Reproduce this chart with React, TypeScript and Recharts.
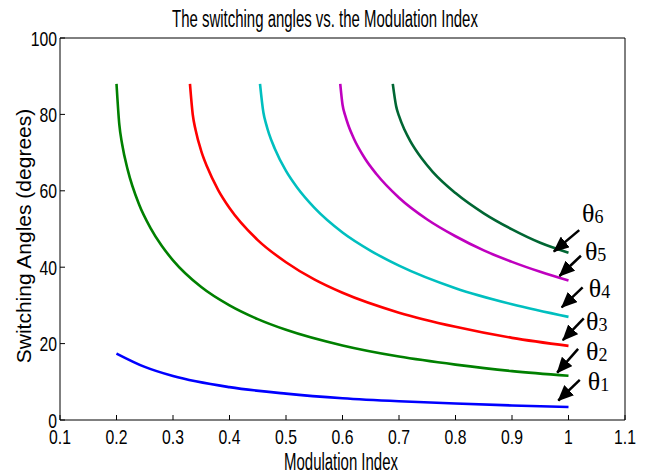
import { LineChart, Line, XAxis, YAxis, ReferenceLine, ReferenceDot, Label } from "recharts";

// modulation index samples (x) and switching angle (deg) for each curve
const theta1 = [
  { m: 0.2, v: 17.4 }, { m: 0.25, v: 13.9 }, { m: 0.3, v: 11.5 }, { m: 0.4, v: 8.6 },
  { m: 0.5, v: 6.9 }, { m: 0.6, v: 5.7 }, { m: 0.7, v: 4.9 }, { m: 0.8, v: 4.3 },
  { m: 0.9, v: 3.8 }, { m: 1.0, v: 3.4 },
];
const theta2 = [
  { m: 0.2, v: 88 }, { m: 0.205, v: 77.3 }, { m: 0.21, v: 72.2 }, { m: 0.22, v: 65.4 },
  { m: 0.24, v: 56.4 }, { m: 0.26, v: 50.3 }, { m: 0.28, v: 45.6 }, { m: 0.3, v: 41.8 },
  { m: 0.35, v: 34.8 }, { m: 0.4, v: 30 }, { m: 0.45, v: 26.4 }, { m: 0.5, v: 23.6 },
  { m: 0.6, v: 19.5 }, { m: 0.7, v: 16.6 }, { m: 0.8, v: 14.5 }, { m: 0.9, v: 12.8 },
  { m: 1.0, v: 11.6 },
];
const theta3 = [
  { m: 0.33, v: 88 }, { m: 0.335, v: 79.9 }, { m: 0.34, v: 75.9 }, { m: 0.35, v: 70.4 },
  { m: 0.36, v: 66.4 }, { m: 0.38, v: 60.2 }, { m: 0.4, v: 55.5 }, { m: 0.45, v: 47.1 },
  { m: 0.5, v: 41.3 }, { m: 0.55, v: 36.8 }, { m: 0.6, v: 33.3 }, { m: 0.7, v: 28.1 },
  { m: 0.8, v: 24.4 }, { m: 0.9, v: 21.5 }, { m: 1.0, v: 19.4 },
];
const theta4 = [
  { m: 0.454, v: 88 }, { m: 0.46, v: 80.5 }, { m: 0.465, v: 77.4 }, { m: 0.47, v: 74.9 },
  { m: 0.48, v: 71.1 }, { m: 0.5, v: 65.2 }, { m: 0.52, v: 60.8 }, { m: 0.55, v: 55.6 },
  { m: 0.6, v: 49.1 }, { m: 0.65, v: 44.3 }, { m: 0.7, v: 40.4 }, { m: 0.8, v: 34.5 },
  { m: 0.9, v: 30.3 }, { m: 1.0, v: 27 },
];
const theta5 = [
  { m: 0.596, v: 88 }, { m: 0.6, v: 82.6 }, { m: 0.605, v: 79.6 }, { m: 0.61, v: 77.3 },
  { m: 0.62, v: 73.7 }, { m: 0.64, v: 68.4 }, { m: 0.66, v: 64.4 }, { m: 0.7, v: 58.2 },
  { m: 0.75, v: 52.5 }, { m: 0.8, v: 48.1 }, { m: 0.85, v: 44.4 }, { m: 0.9, v: 41.4 },
  { m: 0.95, v: 38.8 }, { m: 1.0, v: 36.5 },
];
const theta6 = [
  { m: 0.689, v: 88 }, { m: 0.695, v: 82.1 }, { m: 0.7, v: 79.6 }, { m: 0.71, v: 75.9 },
  { m: 0.72, v: 73 }, { m: 0.74, v: 68.5 }, { m: 0.76, v: 64.9 }, { m: 0.8, v: 59.4 },
  { m: 0.85, v: 54.1 }, { m: 0.9, v: 49.9 }, { m: 0.95, v: 46.4 }, { m: 1.0, v: 43.8 },
];

const xTicks = [0.1, 0.2, 0.3, 0.4, 0.5, 0.6, 0.7, 0.8, 0.9, 1.0, 1.1];
const yTicks = [0, 20, 40, 60, 80, 100];

// arrow tail -> head, and label anchor, per angle
const arrows = [
  { k: "1", tail: [1.02, 10.5], head: [0.982, 5.1], lab: [1.034, 7.9] },
  { k: "2", tail: [1.017, 18.6], head: [0.98, 12.4], lab: [1.031, 15.7] },
  { k: "3", tail: [1.027, 26.6], head: [0.99, 20.9], lab: [1.031, 23.6] },
  { k: "4", tail: [1.025, 34.7], head: [0.988, 29.5], lab: [1.036, 32.2] },
  { k: "5", tail: [1.022, 43.0], head: [0.984, 37.7], lab: [1.029, 41.9] },
  { k: "6", tail: [1.019, 49.7], head: [0.974, 44.1], lab: [1.024, 51.8] },
];

const series = [
  { data: theta1, color: "#0000ff" },
  { data: theta2, color: "#008000" },
  { data: theta3, color: "#ff0000" },
  { data: theta4, color: "#00bfbf" },
  { data: theta5, color: "#bf00bf" },
  { data: theta6, color: "#006633" },
];

const sans = "'Liberation Sans', Arial, sans-serif";
const fmt = (v: number) => String(Math.round(v * 10) / 10);

// narrow-looking tick labels (condensed helvetica in the original)
function XTick(props: any) {
  const { x, y, payload } = props;
  return (
    <text transform={`translate(${x},${y}) scale(0.75,1)`} textAnchor="middle" dy="0.71em" fontSize={21} fontFamily={sans} fill="#000">
      {fmt(payload.value)}
    </text>
  );
}

function YTick(props: any) {
  const { x, y, payload } = props;
  return (
    <text transform={`translate(${x},${y}) scale(0.75,1)`} textAnchor="end" dy="0.36em" fontSize={21} fontFamily={sans} fill="#000">
      {payload.value}
    </text>
  );
}

function ThetaLabel(props: any) {
  const { cx, cy, k } = props;
  return (
    <text x={cx} y={cy} fontFamily="'Liberation Serif', 'Times New Roman', serif" fill="#000">
      <tspan fontSize={26}>θ</tspan>
      <tspan fontSize={18} dy={1}>{k}</tspan>
    </text>
  );
}

const narrowText = {
  position: "absolute" as const,
  width: 600,
  textAlign: "center" as const,
  fontFamily: sans,
  fontSize: 23,
  lineHeight: "20px",
  transform: "scaleX(0.65)",
  whiteSpace: "nowrap" as const,
};

export default function App() {
  return (
    <div style={{ position: "absolute", left: 0, top: 0, width: 657, height: 473, background: "#fff" }}>
      <div style={{ ...narrowText, top: 9, left: 25 }}>The switching angles vs. the Modulation Index</div>
      <div style={{ ...narrowText, top: 452, left: 41 }}>Modulation Index</div>
      <LineChart width={657} height={473} margin={{ top: 37, right: 31, bottom: 0, left: 0 }}>
        <defs>
          <marker id="ah" markerUnits="userSpaceOnUse" markerWidth={16} markerHeight={14} refX={15} refY={7} orient="auto">
            <path d="M0,0 L16,7 L0,14 z" fill="#000" />
          </marker>
        </defs>
        <XAxis
          dataKey="m"
          type="number"
          domain={[0.1, 1.1]}
          ticks={xTicks}
          height={53}
          stroke="#000"
          tickSize={-5}
          tickMargin={14}
          tick={<XTick />}
        />
        {/* top & right axes only draw the box with inward ticks */}
        <XAxis
          xAxisId="top"
          dataKey="m"
          orientation="top"
          type="number"
          domain={[0.1, 1.1]}
          ticks={xTicks}
          tick={false}
          height={1}
          stroke="#000"
          tickSize={-5}
        />
        <YAxis type="number" domain={[0, 100]} ticks={yTicks} width={60} stroke="#000" tickSize={-5} tickMargin={8} tick={<YTick />}>
          <Label
            content={() => (
              <text transform="translate(31,236) rotate(-90)" textAnchor="middle" fontSize={21} fontFamily={sans} fill="#000">
                Switching Angles (degrees)
              </text>
            )}
          />
        </YAxis>
        <YAxis
          yAxisId="right"
          orientation="right"
          type="number"
          domain={[0, 100]}
          ticks={yTicks}
          tick={false}
          width={1}
          stroke="#000"
          tickSize={-5}
        />
        <Line data={theta1} dataKey="v" xAxisId="top" yAxisId="right" stroke="none" dot={false} isAnimationActive={false} />
        {series.map((s, i) => (
          <Line
            key={i}
            data={s.data}
            dataKey="v"
            type="monotone"
            stroke={s.color}
            strokeWidth={2.6}
            dot={false}
            isAnimationActive={false}
          />
        ))}
        {arrows.map((a) => (
          <ReferenceLine
            key={"a" + a.k}
            segment={[{ x: a.tail[0], y: a.tail[1] }, { x: a.head[0], y: a.head[1] }]}
            stroke="#000"
            strokeWidth={2.5}
            markerEnd="url(#ah)"
            ifOverflow="visible"
          />
        ))}
        {arrows.map((a) => (
          <ReferenceDot
            key={"l" + a.k}
            x={a.lab[0]}
            y={a.lab[1]}
            r={0}
            ifOverflow="visible"
            shape={(p: any) => <ThetaLabel {...p} k={a.k} />}
          />
        ))}
      </LineChart>
    </div>
  );
}
